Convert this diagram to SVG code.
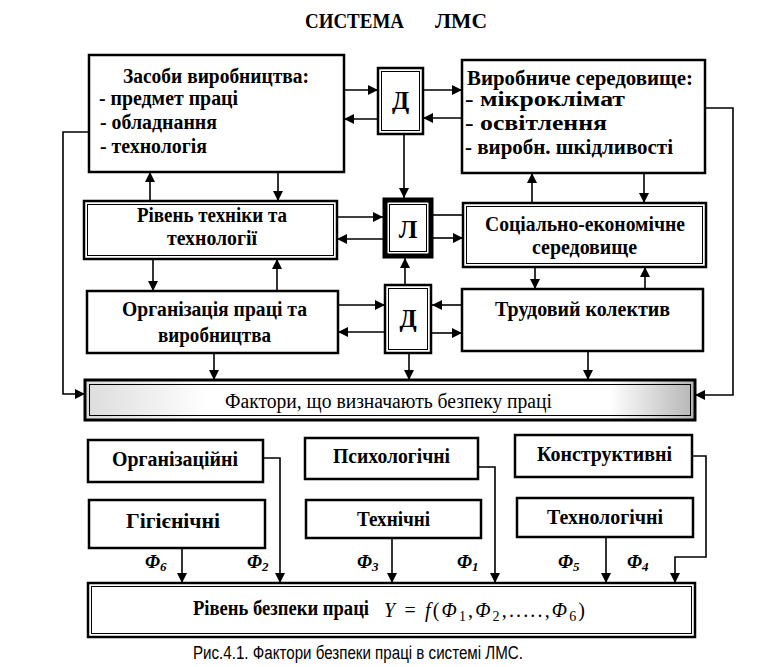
<svg xmlns="http://www.w3.org/2000/svg" width="764" height="667" viewBox="0 0 764 667">
<style>
.t{font-family:"Liberation Serif","Times New Roman",serif;font-weight:bold;font-size:20px;fill:#000}
.r{font-family:"Liberation Serif","Times New Roman",serif;font-size:20px;fill:#000}
.big{font-family:"Liberation Serif","Times New Roman",serif;font-weight:bold;font-size:25px;fill:#000}
.bx{fill:#fff;stroke:#000;stroke-width:2.5}
.in{fill:none;stroke:#000;stroke-width:1}
.c{fill:none;stroke:#000;stroke-width:1.6}
.phi{font-family:"Liberation Serif","Times New Roman",serif;font-weight:bold;font-style:italic;font-size:19px}
</style>
<defs>
<marker id="a" markerUnits="userSpaceOnUse" markerWidth="10" markerHeight="10" refX="10" refY="5" orient="auto">
<path d="M0,0 L10,5 L0,10 z" fill="#000"/>
</marker>
<linearGradient id="g" x1="0" y1="0" x2="1" y2="0">
<stop offset="0" stop-color="#dcdcdc"/>
<stop offset="0.2" stop-color="#fff"/>
<stop offset="0.86" stop-color="#fff"/>
<stop offset="1" stop-color="#b4b4b4"/>
</linearGradient>
</defs>
<rect width="764" height="667" fill="#fff"/>

<g id="title">
<text class="t" x="305" y="28" textLength="99" lengthAdjust="spacingAndGlyphs">СИСТЕМА</text>
<text class="t" x="435" y="28" textLength="52" lengthAdjust="spacingAndGlyphs">ЛМС</text>
</g>

<g id="connectors">
<path class="c" d="M344,90 H378" marker-end="url(#a)"/>
<path class="c" d="M378,119 H344" marker-end="url(#a)"/>
<path class="c" d="M423,90 H462" marker-end="url(#a)"/>
<path class="c" d="M462,118 H423" marker-end="url(#a)"/>
<path class="c" d="M89,132 H63 V394 H85" marker-end="url(#a)"/>
<path class="c" d="M705,108 H733 V395 H695" marker-end="url(#a)"/>
<path class="c" d="M404,134 V198" marker-end="url(#a)"/>
<path class="c" d="M150,201 V172" marker-end="url(#a)"/>
<path class="c" d="M278,172 V201" marker-end="url(#a)"/>
<path class="c" d="M532,203 V173" marker-end="url(#a)"/>
<path class="c" d="M644,173 V203" marker-end="url(#a)"/>
<path class="c" d="M337,217 H383" marker-end="url(#a)"/>
<path class="c" d="M383,239 H337" marker-end="url(#a)"/>
<path class="c" d="M463,215 H433"/>
<path class="c" d="M433,238 H463" marker-end="url(#a)"/>
<path class="c" d="M153,259 V291" marker-end="url(#a)"/>
<path class="c" d="M277,291 V259" marker-end="url(#a)"/>
<path class="c" d="M535,267 V289" marker-end="url(#a)"/>
<path class="c" d="M645,289 V267" marker-end="url(#a)"/>
<path class="c" d="M405,285 V258" marker-end="url(#a)"/>
<path class="c" d="M338,305 H385" marker-end="url(#a)"/>
<path class="c" d="M385,332 H338" marker-end="url(#a)"/>
<path class="c" d="M462,305 H432" marker-end="url(#a)"/>
<path class="c" d="M432,333 H462" marker-end="url(#a)"/>
<path class="c" d="M214,353 V380" marker-end="url(#a)"/>
<path class="c" d="M409,354 V380" marker-end="url(#a)"/>
<path class="c" d="M588,351 V380" marker-end="url(#a)"/>
<path class="c" d="M182,548 V583" marker-end="url(#a)"/>
<path class="c" d="M263,458 H280 V583" marker-end="url(#a)"/>
<path class="c" d="M392,538 V583" marker-end="url(#a)"/>
<path class="c" d="M478,467 H495 V583" marker-end="url(#a)"/>
<path class="c" d="M606,537 V583" marker-end="url(#a)"/>
<path class="c" d="M692,456 H706 V557 H675 V583" marker-end="url(#a)"/>
</g>

<g id="zasoby">
<rect class="bx" x="89" y="55" width="255" height="117"/>
<text class="t" x="123" y="83" textLength="186" lengthAdjust="spacingAndGlyphs">Засоби виробництва:</text>
<text class="t" x="99" y="105" textLength="139" lengthAdjust="spacingAndGlyphs">- предмет праці</text>
<text class="t" x="100" y="129" textLength="117" lengthAdjust="spacingAndGlyphs">- обладнання</text>
<text class="t" x="100" y="153" textLength="107" lengthAdjust="spacingAndGlyphs">- технологія</text>
</g>

<g id="d-top">
<rect class="bx" x="378" y="68" width="45" height="66"/>
<rect class="in" x="381.5" y="71.5" width="38" height="59"/>
<text class="big" x="400.5" y="109" text-anchor="middle">Д</text>
</g>

<g id="seredovyshche">
<rect class="bx" x="462" y="60" width="243" height="113"/>
<text class="t" x="467" y="85" textLength="226" lengthAdjust="spacingAndGlyphs">Виробниче середовище:</text>
<text class="t" x="465" y="106" textLength="160" lengthAdjust="spacingAndGlyphs">- мікроклімат</text>
<text class="t" x="465" y="130" textLength="142" lengthAdjust="spacingAndGlyphs">- освітлення</text>
<text class="t" x="465" y="154" textLength="208" lengthAdjust="spacingAndGlyphs">- виробн. шкідливості</text>
</g>

<g id="riven-tekhniky">
<rect class="bx" x="84" y="201" width="253" height="58"/>
<rect class="in" x="87.5" y="204.5" width="246" height="51"/>
<text class="t" x="137" y="222" textLength="150" lengthAdjust="spacingAndGlyphs">Рівень техніки та</text>
<text class="t" x="167" y="245" textLength="90" lengthAdjust="spacingAndGlyphs">технології</text>
</g>

<g id="l">
<rect x="385" y="200" width="46" height="56" fill="#fff" stroke="#000" stroke-width="5"/>
<rect class="in" x="389.5" y="204.5" width="37" height="47"/>
<text class="big" x="408" y="238" text-anchor="middle">Л</text>
</g>

<g id="sotsialno">
<rect class="bx" x="463" y="203" width="243" height="64"/>
<rect class="in" x="466.5" y="206.5" width="236" height="57"/>
<text class="t" x="485" y="231" textLength="200" lengthAdjust="spacingAndGlyphs">Соціально-економічне</text>
<text class="t" x="532" y="254" textLength="105" lengthAdjust="spacingAndGlyphs">середовище</text>
</g>

<g id="organizatsiya">
<rect class="bx" x="87" y="291" width="251" height="62"/>
<text class="t" x="122" y="316" textLength="185" lengthAdjust="spacingAndGlyphs">Організація праці та</text>
<text class="t" x="158" y="342" textLength="113" lengthAdjust="spacingAndGlyphs">виробництва</text>
</g>

<g id="d-bottom">
<rect class="bx" x="385" y="285" width="46" height="68"/>
<rect class="in" x="388.5" y="288.5" width="39" height="61"/>
<text class="big" x="408" y="327" text-anchor="middle">Д</text>
</g>

<g id="kolektyv">
<rect class="bx" x="462" y="289" width="241" height="62"/>
<text class="t" x="495" y="316" textLength="175" lengthAdjust="spacingAndGlyphs">Трудовий колектив</text>
</g>

<g id="faktory">
<rect x="85" y="380" width="610" height="40" fill="url(#g)" stroke="#000" stroke-width="3"/>
<rect class="in" x="89.5" y="384.5" width="601" height="31"/>
<text class="r" x="225" y="408" textLength="327" lengthAdjust="spacingAndGlyphs">Фактори, що визначають безпеку праці</text>
</g>

<g id="orgf">
<rect class="bx" x="88" y="440" width="175" height="42"/>
<text class="t" x="112" y="466" textLength="126" lengthAdjust="spacingAndGlyphs">Організаційні</text>
</g>
<g id="psykh">
<rect class="bx" x="305" y="438" width="173" height="41"/>
<text class="t" x="333" y="463" textLength="117" lengthAdjust="spacingAndGlyphs">Психологічні</text>
</g>
<g id="konstr">
<rect class="bx" x="515" y="435" width="177" height="42"/>
<text class="t" x="537" y="461" textLength="135" lengthAdjust="spacingAndGlyphs">Конструктивні</text>
</g>
<g id="hihiyen">
<rect class="bx" x="89" y="500" width="176" height="48"/>
<text class="t" x="126" y="528" textLength="94" lengthAdjust="spacingAndGlyphs">Гігієнічні</text>
</g>
<g id="tekhn">
<rect class="bx" x="306" y="500" width="175" height="38"/>
<text class="t" x="357" y="526" textLength="73" lengthAdjust="spacingAndGlyphs">Технічні</text>
</g>
<g id="tekhnol">
<rect class="bx" x="517" y="498" width="176" height="39"/>
<text class="t" x="547" y="524" textLength="116" lengthAdjust="spacingAndGlyphs">Технологічні</text>
</g>

<g id="phi-labels">
<text class="phi" x="145" y="568">Φ<tspan font-size="13" dy="3">6</tspan></text>
<text class="phi" x="247" y="568">Φ<tspan font-size="13" dy="3">2</tspan></text>
<text class="phi" x="357" y="568">Φ<tspan font-size="13" dy="3">3</tspan></text>
<text class="phi" x="457" y="568">Φ<tspan font-size="13" dy="3">1</tspan></text>
<text class="phi" x="558" y="568">Φ<tspan font-size="13" dy="3">5</tspan></text>
<text class="phi" x="627" y="568">Φ<tspan font-size="13" dy="3">4</tspan></text>
</g>

<g id="riven-bezpeky">
<rect class="bx" x="88" y="583" width="607" height="54"/>
<rect class="in" x="91.5" y="586.5" width="600" height="47"/>
<text class="t" x="193" y="615" textLength="176" lengthAdjust="spacingAndGlyphs">Рівень безпеки праці</text>
<text class="r" x="384" y="617" font-size="24" font-style="italic" textLength="201" lengthAdjust="spacing">Y <tspan font-style="normal">=</tspan> f<tspan font-style="normal">(</tspan>Φ<tspan font-size="14" dy="4" font-style="normal">1</tspan><tspan dy="-4" font-style="normal">,</tspan>Φ<tspan font-size="14" dy="4" font-style="normal">2</tspan><tspan dy="-4" font-style="normal">,.....,</tspan>Φ<tspan font-size="14" dy="4" font-style="normal">6</tspan><tspan dy="-4" font-style="normal">)</tspan></text>
</g>

<text x="193" y="659" font-family="Liberation Sans, Arial, sans-serif" font-size="18" textLength="330" lengthAdjust="spacingAndGlyphs">Рис.4.1. Фактори безпеки праці в системі ЛМС.</text>
</svg>
